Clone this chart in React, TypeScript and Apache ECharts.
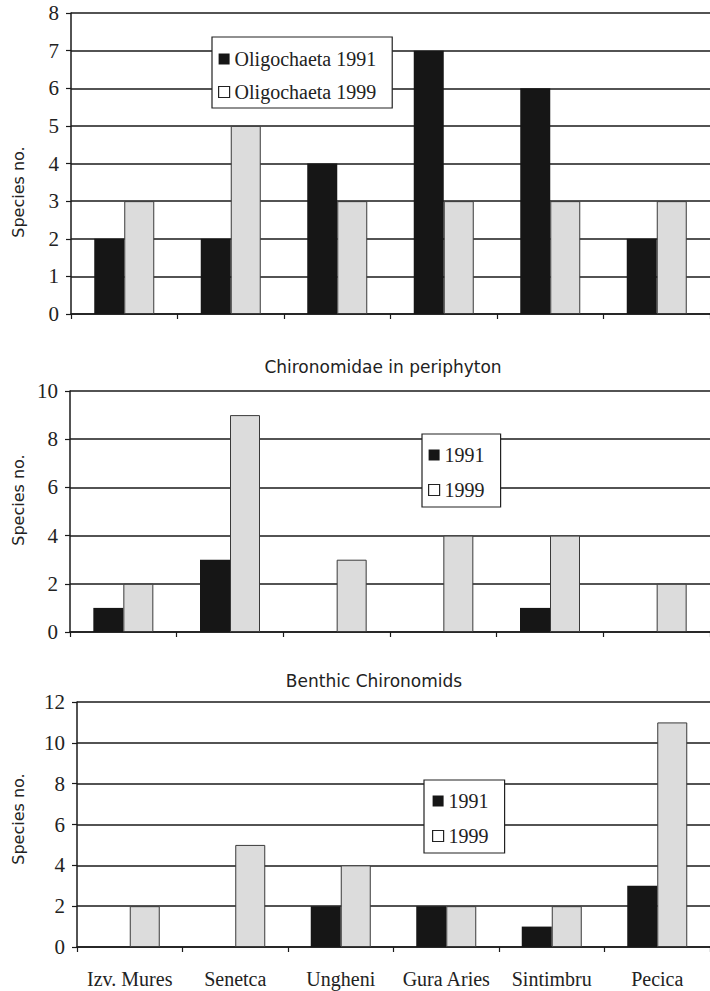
import React, { useEffect, useRef } from "react";
import * as echarts from "echarts";

// Sampling stations along the Mures river
const categories = ["Izv. Mures", "Senetca", "Ungheni", "Gura Aries", "Sintimbru", "Pecica"];

// Oligochaeta species numbers
const oligochaeta1991 = [2, 2, 4, 7, 6, 2];
const oligochaeta1999 = [3, 5, 3, 3, 3, 3];

// Chironomidae in periphyton
const periphyton1991 = [1, 3, 0, 0, 1, 0];
const periphyton1999 = [2, 9, 3, 4, 4, 2];

// Benthic chironomids
const benthic1991 = [0, 0, 2, 2, 1, 3];
const benthic1999 = [2, 5, 4, 2, 2, 11];

// Value-axis ranges for the three panels
const axisMax = [8, 10, 12];
const axisStep = [1, 2, 2];

const panelTitles = ["Chironomidae in periphyton", "Benthic Chironomids"];
const yAxisName = "Species no.";

const SERIF = "Liberation Serif";
const SANS = "DejaVu Sans";
const INK = "#1a1a1a";
const DARK_FILL = "#161616";
const LIGHT_FILL = "#dcdcdc";

export default function App() {
  const ref = useRef<HTMLDivElement>(null);

  useEffect(() => {
    if (!ref.current) return;
    const chart = echarts.init(ref.current, null, { renderer: "svg" });

    const grids = [
      { left: 71, top: 13, width: 641, height: 301 },
      { left: 70, top: 391, width: 646, height: 241 },
      { left: 77, top: 702, width: 638, height: 245 },
    ];

    const xAxes = grids.map((_, i) => ({
      type: "category",
      gridIndex: i,
      data: categories,
      axisLine: { show: true, lineStyle: { color: INK, width: 1.5 } },
      axisTick: { show: true, interval: 0, length: 5, lineStyle: { color: INK, width: 1.2 } },
      axisLabel: {
        show: i === 2,
        interval: 0,
        fontFamily: SERIF,
        fontSize: 20,
        color: "#222",
        margin: 22,
      },
      splitLine: { show: false },
    }));

    const yAxes = grids.map((_, i) => ({
      type: "value",
      gridIndex: i,
      min: 0,
      max: axisMax[i],
      interval: axisStep[i],
      axisLine: { show: true, lineStyle: { color: INK, width: 1.5 } },
      axisTick: { show: true, length: 5, lineStyle: { color: INK, width: 1.2 } },
      axisLabel: {
        fontFamily: SERIF,
        fontSize: 21,
        color: "#222",
        margin: 12,
      },
      splitLine: { show: true, lineStyle: { color: INK, width: 1.5 } },
    }));

    const darkBar = { color: DARK_FILL, borderWidth: 0 };
    const lightBar = { color: LIGHT_FILL, borderColor: "#3a3a3a", borderWidth: 1 };

    const makeSeries = (name: string, data: number[], idx: number, style: any) => ({
      type: "bar",
      name,
      data,
      xAxisIndex: idx,
      yAxisIndex: idx,
      barWidth: 30,
      barGap: "0%",
      itemStyle: style,
      emphasis: { disabled: true },
    });

    const series = [
      makeSeries("Oligochaeta 1991", oligochaeta1991, 0, darkBar),
      makeSeries("Oligochaeta 1999", oligochaeta1999, 0, lightBar),
      makeSeries("1991", periphyton1991, 1, darkBar),
      makeSeries("1999", periphyton1999, 1, lightBar),
      makeSeries("1991", benthic1991, 2, darkBar),
      makeSeries("1999", benthic1999, 2, lightBar),
    ];

    const legendBase = {
      orient: "vertical",
      backgroundColor: "#fff",
      borderColor: "#222",
      borderWidth: 1.2,
      borderRadius: 0,
      icon: "rect",
      itemWidth: 11,
      itemHeight: 11,
      selectedMode: false,
      textStyle: { fontFamily: SERIF, fontSize: 20, color: "#222", lineHeight: 22 },
    };

    const legendItems = (a: string, b: string) => [
      { name: a, icon: "rect", itemStyle: { color: DARK_FILL, borderWidth: 0 } },
      { name: b, icon: "rect", itemStyle: { color: "#fff", borderColor: "#222", borderWidth: 1.2 } },
    ];

    const option: any = {
      animation: false,
      backgroundColor: "#fff",
      grid: grids,
      xAxis: xAxes,
      yAxis: yAxes,
      series,
      legend: [
        {
          ...legendBase,
          left: 212,
          top: 37,
          padding: [11, 16, 5, 6],
          itemGap: 11,
          data: legendItems("Oligochaeta 1991", "Oligochaeta 1999"),
        },
        {
          ...legendBase,
          left: 422,
          top: 434,
          padding: [10, 16, 6, 6],
          itemGap: 13,
          data: legendItems("1991", "1999"),
        },
        {
          ...legendBase,
          left: 424,
          top: 780,
          padding: [10, 16, 6, 8],
          itemGap: 13,
          data: legendItems("1991", "1999"),
        },
      ],
      title: [
        {
          text: panelTitles[0],
          left: 383,
          top: 358,
          textAlign: "center",
          padding: 0,
          textStyle: { fontFamily: SANS, fontSize: 17, fontWeight: "normal", color: "#222" },
        },
        {
          text: panelTitles[1],
          left: 374,
          top: 672,
          textAlign: "center",
          padding: 0,
          textStyle: { fontFamily: SANS, fontSize: 17, fontWeight: "normal", color: "#222" },
        },
      ],
      graphic: [192, 500, 819].map((cy) => ({
        type: "text",
        x: 18,
        y: cy,
        rotation: Math.PI / 2,
        style: {
          text: yAxisName,
          fontFamily: SANS,
          fontSize: 16,
          fill: "#222",
          textAlign: "center",
          textVerticalAlign: "middle",
        },
      })),
    };

    chart.setOption(option);
    return () => chart.dispose();
  }, []);

  return (
    <div
      ref={ref}
      style={{ position: "absolute", left: 0, top: 0, width: 710, height: 991, background: "#fff" }}
    />
  );
}
